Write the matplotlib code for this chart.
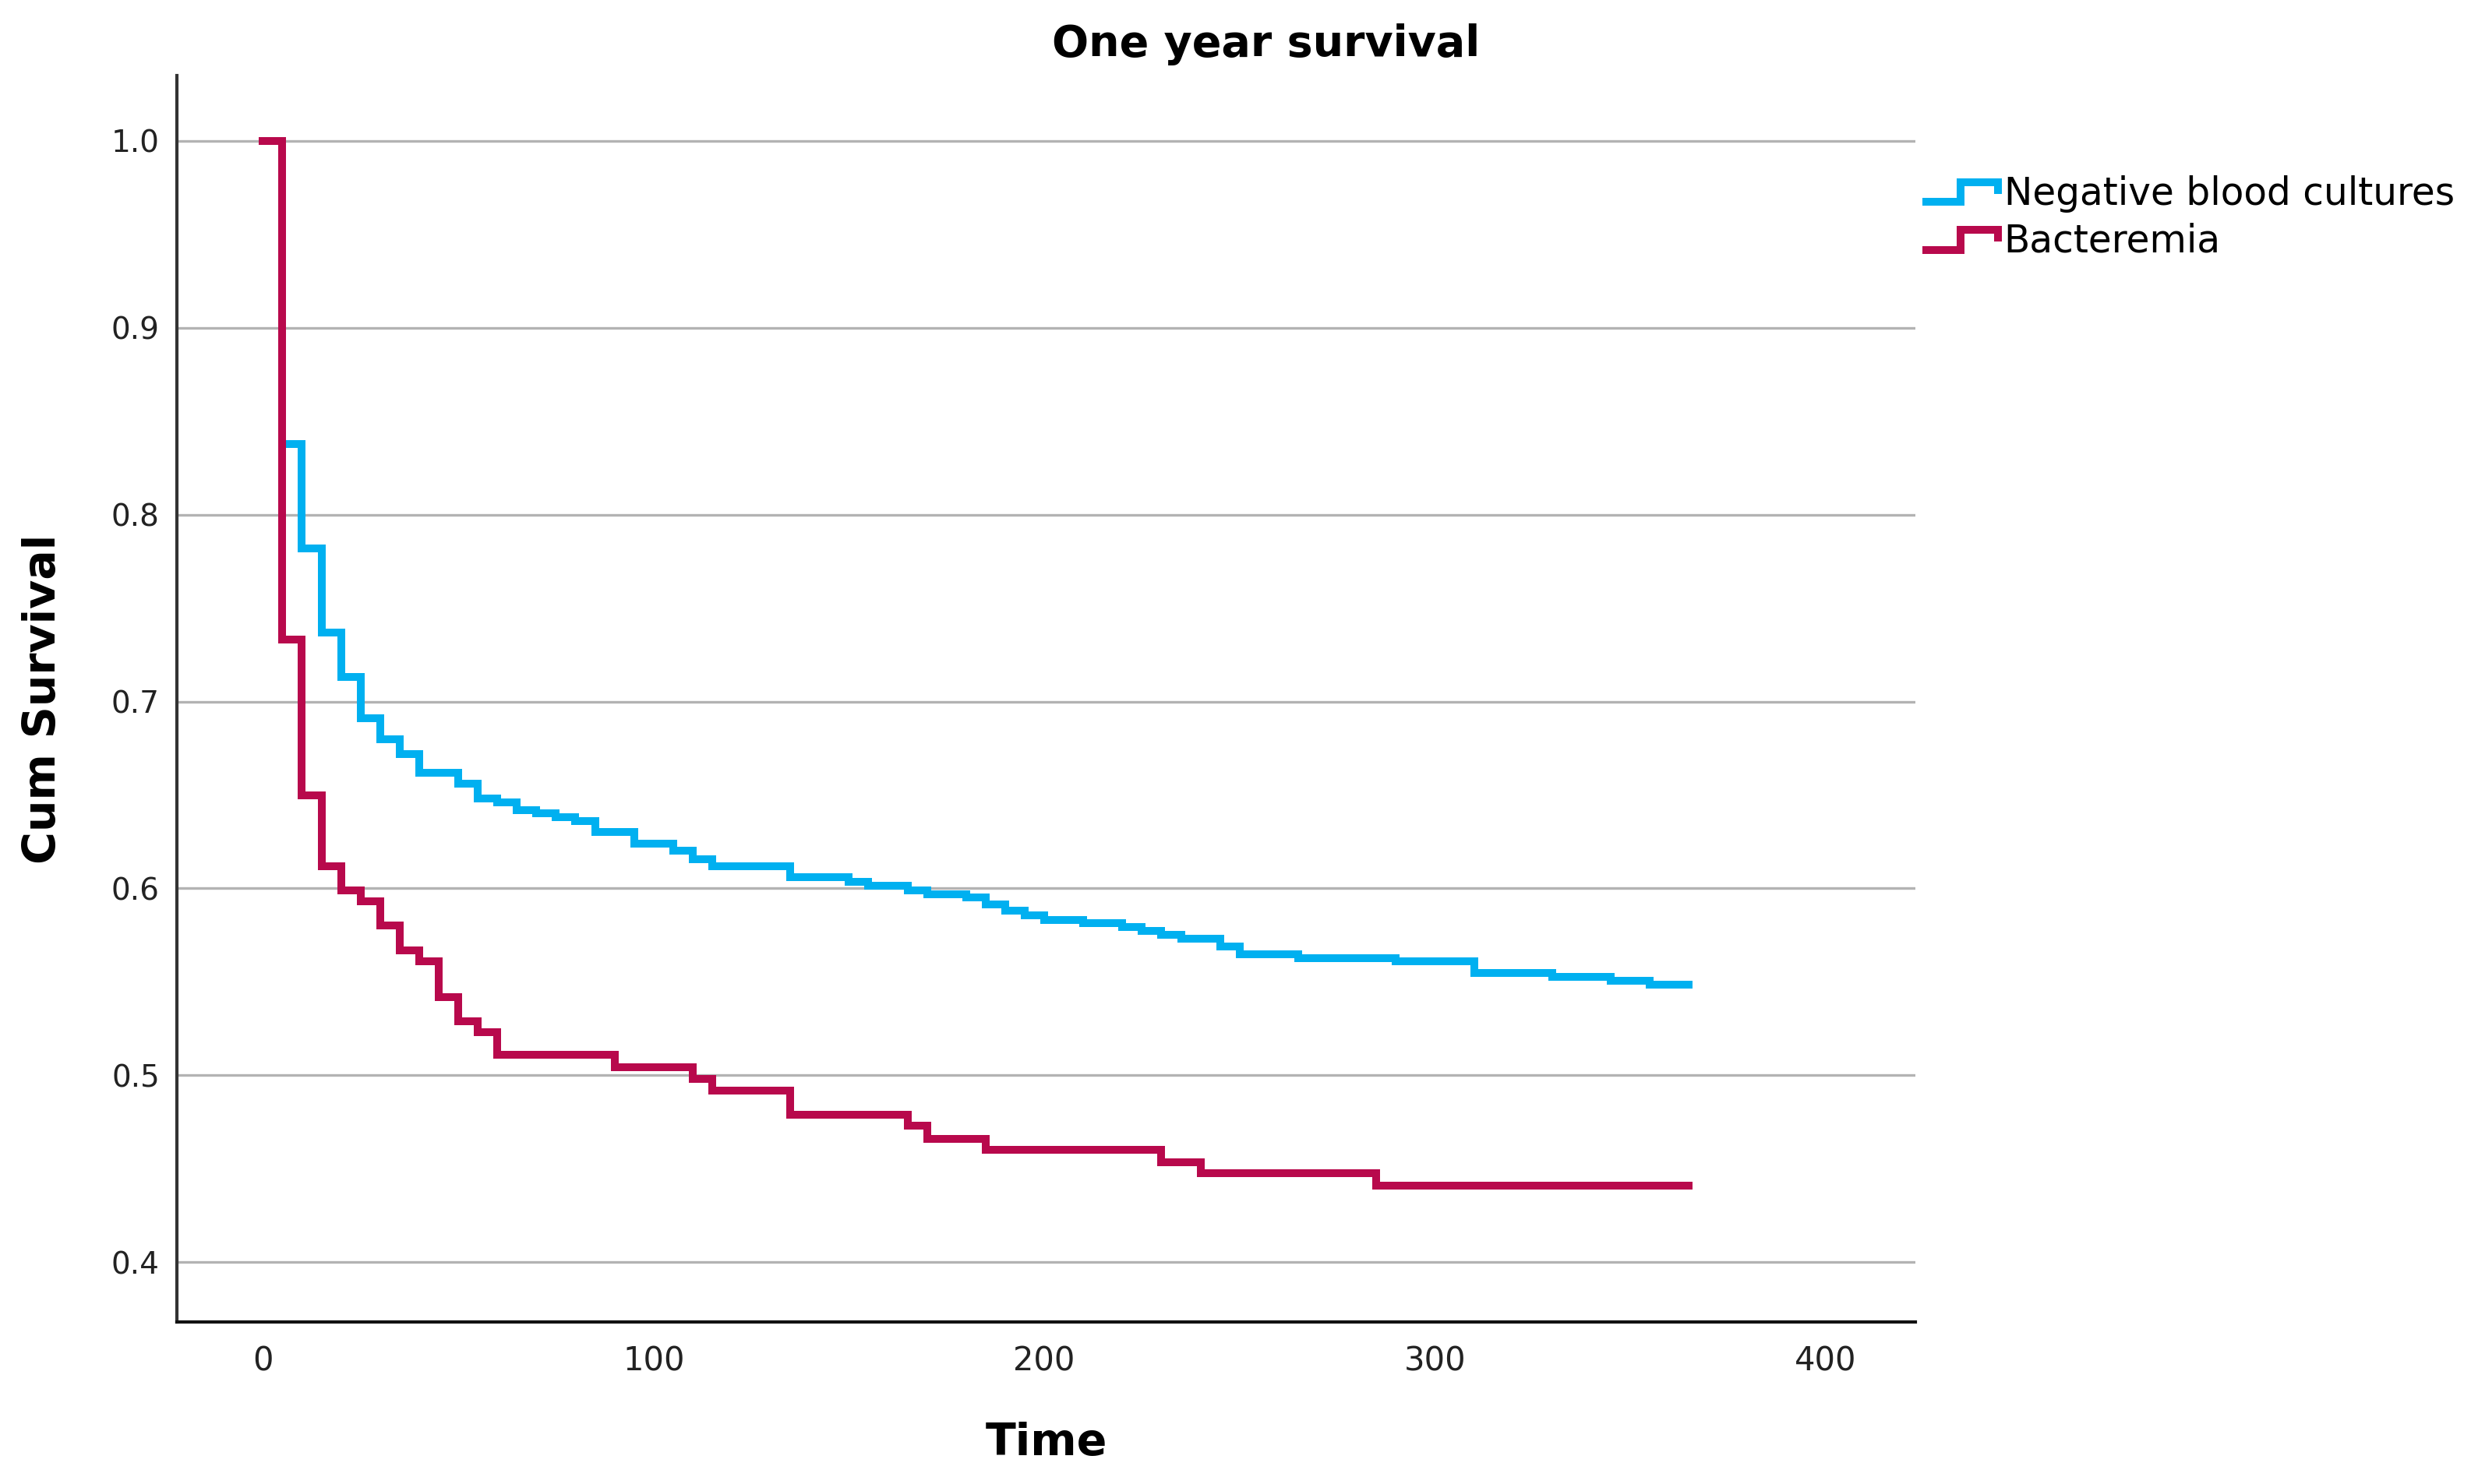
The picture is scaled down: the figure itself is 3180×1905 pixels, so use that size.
import numpy as np
import matplotlib
matplotlib.use("Agg")
import matplotlib.pyplot as plt
from matplotlib.lines import Line2D
from matplotlib.legend_handler import HandlerBase

# Kaplan-Meier steps (time in days, cum survival)
time_neg = [0, 5, 10, 15, 20, 25, 30, 35, 40, 50, 55, 60, 65, 70, 75, 80, 85, 95,
            105, 110, 115, 135, 150, 155, 165, 170, 180, 185, 190, 195, 200, 210,
            220, 225, 230, 235, 245, 250, 265, 290, 310, 330, 345, 355, 365]
surv_neg = [1.0, 0.838, 0.782, 0.737, 0.713, 0.691, 0.680, 0.672, 0.662, 0.656,
            0.648, 0.646, 0.642, 0.640, 0.638, 0.636, 0.630, 0.624, 0.620, 0.6155,
            0.612, 0.606, 0.6035, 0.6014, 0.599, 0.597, 0.5951, 0.5913, 0.5879,
            0.5854, 0.5829, 0.5813, 0.5792, 0.5771, 0.575, 0.5729, 0.569, 0.5649,
            0.5628, 0.5611, 0.5549, 0.5528, 0.5507, 0.5486, 0.5486]

time_bac = [0, 5, 10, 15, 20, 25, 30, 35, 40, 45, 50, 55, 60, 90, 110, 115, 135,
            165, 170, 185, 230, 240, 285, 365]
surv_bac = [1.0, 0.733, 0.650, 0.612, 0.599, 0.593, 0.580, 0.567, 0.561, 0.542,
            0.529, 0.523, 0.511, 0.5045, 0.498, 0.492, 0.479, 0.473, 0.466, 0.460,
            0.4535, 0.4475, 0.441, 0.441]

labels = ["Negative blood cultures", "Bacteremia"]
colors = ["#00B0F0", "#B8094C"]
x_ticks = [0, 100, 200, 300, 400]
y_ticks = [0.4, 0.5, 0.6, 0.7, 0.8, 0.9, 1.0]


class StepHandler(HandlerBase):
    # little step icon like the SPSS legend
    def create_artists(self, legend, orig_handle, xdescent, ydescent,
                       width, height, fontsize, trans):
        xs = np.array([0, 0.5, 0.5, 1.0, 1.0]) * width - xdescent
        ys = np.array([0.1, 0.1, 0.85, 0.85, 0.4]) * height - ydescent
        line = Line2D(xs, ys, color=orig_handle.get_color(),
                      lw=orig_handle.get_linewidth(),
                      solid_joinstyle="miter", solid_capstyle="butt")
        line.set_transform(trans)
        return [line]


fig = plt.figure(figsize=(31.8, 19.05), dpi=100)
ax = fig.add_axes([0.0714, 0.1092, 0.7016, 0.8399])

h1, = ax.step(time_neg, surv_neg, where="post", color=colors[0], lw=7.2,
              solid_joinstyle="miter", label=labels[0])
h2, = ax.step(time_bac, surv_bac, where="post", color=colors[1], lw=7.2,
              solid_joinstyle="miter", label=labels[1])

ax.set_xlim(-22, 423)
ax.set_ylim(0.368, 1.035)
ax.set_xticks(x_ticks)
ax.set_yticks(y_ticks)
ax.set_yticklabels(["{:.1f}".format(v) for v in y_ticks])
ax.tick_params(axis="both", length=0, colors="#222222")
ax.tick_params(axis="y", pad=16, labelsize=28)
ax.tick_params(axis="x", pad=21, labelsize=30)

ax.grid(axis="y", color="#b3b3b3", lw=2.4)
ax.set_axisbelow(True)
for s in ["top", "right"]:
    ax.spines[s].set_visible(False)
ax.spines["left"].set_linewidth(3)
ax.spines["left"].set_color("#333333")
ax.spines["bottom"].set_linewidth(3)
ax.spines["bottom"].set_color("#111111")

ax.set_xlabel("Time", fontsize=41, fontweight="bold", va="center")
ax.xaxis.set_label_coords(0.5, -0.097)
ax.set_ylabel("Cum Survival", fontsize=41, fontweight="bold", va="center")
ax.yaxis.set_label_coords(-0.077, 0.5)

fig.suptitle("One year survival", x=0.511, y=0.970, va="center",
             fontsize=40, fontweight="bold")

fig.legend(handles=[h1, h2], labels=labels, loc="upper left",
           bbox_to_anchor=(0.7758, 0.882), bbox_transform=fig.transFigure,
           frameon=False, fontsize=35, borderpad=0, borderaxespad=0,
           handlelength=2.0, handletextpad=0.15, labelspacing=0.27,
           handler_map={Line2D: StepHandler()})

plt.savefig("out.png", dpi=100, facecolor="white")
